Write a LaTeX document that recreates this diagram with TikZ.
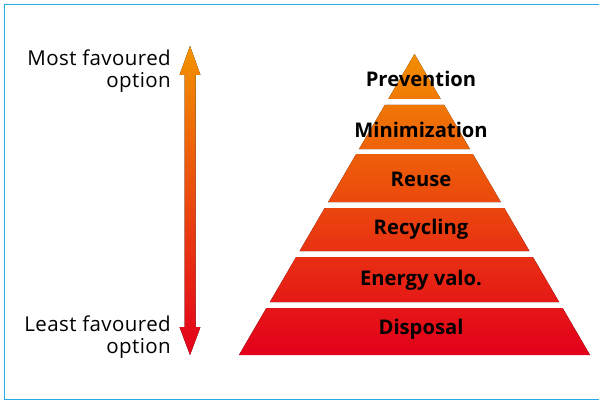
\documentclass[tikz,border=0pt]{standalone}
\usepackage{fontspec}
\setmainfont{Open Sans}
\definecolor{framecol}{HTML}{29ABE2}
\definecolor{hiorange}{HTML}{F39200}
\definecolor{lored}{HTML}{E3001B}
\begin{document}
\begin{tikzpicture}[x=1pt,y=-1pt,
  frame/.style={draw=framecol, line width=1.5pt},
  grad/.style={top color=hiorange, bottom color=lored, draw=none},
  side/.style={font=\addfontfeature{LetterSpace=2}\fontsize{20.5}{21.5}\selectfont, inner sep=0pt, anchor=base east, align=right},
  tierlabel/.style={font=\bfseries\fontsize{20.2}{21}\selectfont, inner sep=0pt, anchor=base}]
\useasboundingbox (0,0) rectangle (599,401);

% frame, open on the right
\draw[frame] (605,4.5) -- (4.5,4.5) -- (4.5,399.5) -- (605,399.5);

% double-headed preference arrow
\fill[grad] (190,46) -- (200.5,75) -- (195.5,75) -- (195.5,327) -- (200.5,327)
  -- (190,355) -- (179.5,327) -- (184.5,327) -- (184.5,75) -- (179.5,75) -- cycle;

% two-line labels: the base anchor sits on the last line
\node[side] (most) at (171,87.5) {Most favoured\\option};
\node[side] (least) at (171,353) {Least favoured\\option};

% pyramid tiers, one shading across all of them
\begin{scope}
  \clip (414.5,54) -- (440.7,99) -- (388.3,99) -- cycle
        (384.8,105) -- (444.2,105) -- (469.9,149) -- (359.1,149) -- cycle
        (356.2,154) -- (472.8,154) -- (500.8,202) -- (328.2,202) -- cycle
        (324.7,208) -- (504.3,208) -- (529.4,251) -- (299.6,251) -- cycle
        (296.1,257) -- (532.9,257) -- (559.1,302) -- (269.9,302) -- cycle
        (266.4,308) -- (562.6,308) -- (590,355) -- (239,355) -- cycle;
  \fill[grad] (230,46) rectangle (600,355);
\end{scope}

\node[tierlabel] (prevention) at (421,87) {Prevention};
\node[tierlabel] (minimization) at (421,137) {Minimization};
\node[tierlabel] (reuse) at (421,186) {Reuse};
\node[tierlabel] (recycling) at (421,234) {Recycling};
\node[tierlabel] (energy) at (421,285) {Energy valo.};
\node[tierlabel] (disposal) at (421,334) {Disposal};
\end{tikzpicture}
\end{document}
